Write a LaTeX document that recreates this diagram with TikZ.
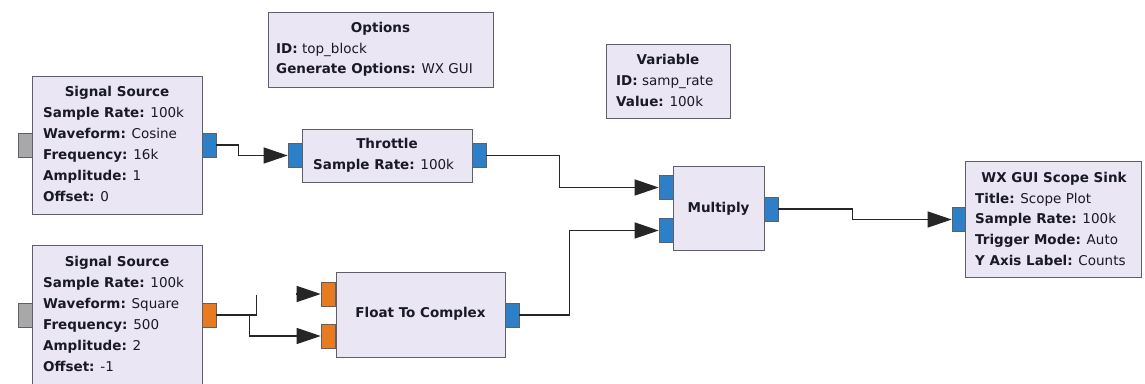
\documentclass[tikz,border=0pt]{standalone}
\usepackage{fontspec}
\setmainfont{DejaVu Sans}
\usetikzlibrary{arrows.meta}
\definecolor{blkfill}{RGB}{234,230,243}
\definecolor{blkdraw}{RGB}{95,95,105}
\definecolor{portblue}{RGB}{45,128,200}
\definecolor{portorange}{RGB}{232,122,32}
\definecolor{portgray}{RGB}{168,168,168}
\definecolor{txt}{RGB}{25,25,40}
\begin{document}
\begin{tikzpicture}[x=1pt,y=-1pt,
  blk/.style={draw=blkdraw, fill=blkfill, line width=1.2pt, inner sep=0pt, anchor=north west},
  port/.style={draw=blkdraw, line width=0.6pt, inner sep=0pt, minimum width=14pt, minimum height=24pt},
  bport/.style={port, fill=portblue},
  oport/.style={port, fill=portorange},
  gport/.style={port, fill=portgray},
  lbl/.style={text=txt, font=\fontsize{13.5}{16}\selectfont, inner sep=0pt, anchor=base west},
  ttl/.style={text=txt, font=\fontsize{13.5}{16}\selectfont\bfseries, inner sep=0pt, anchor=base},
  wire/.style={draw=black!85, line width=1.3pt},
  conn/.style={wire, -{Triangle[length=24pt,width=16pt]}}
]
\useasboundingbox (0,0) rectangle (1145,383);
\clip (0,0) rectangle (1145,383);
\fill[white] (0,0) rectangle (1145,383);

% ---------- blocks ----------
\node[blk, minimum width=170pt, minimum height=138pt] (ss1) at (32,76) {};
\node[blk, minimum width=170pt, minimum height=150pt] (ss2) at (32,245) {};
\node[blk, minimum width=225pt, minimum height=75pt] (opt) at (268,12) {};
\node[blk, minimum width=124pt, minimum height=74pt] (var) at (606,44) {};
\node[blk, minimum width=170pt, minimum height=53pt] (thr) at (302,129) {};
\node[blk, minimum width=169pt, minimum height=85pt] (ftc) at (336,272) {};
\node[blk, minimum width=91pt, minimum height=84pt] (mul) at (673,166) {};
\node[blk, minimum width=176pt, minimum height=116pt] (scp) at (965,161) {};

% ---------- ports ----------
\node[gport] (ss1in) at (25,145) {};
\node[bport] (ss1out) at (209,145) {};
\node[gport] (ss2in) at (25,315.5) {};
\node[oport] (ss2out) at (209,315) {};
\node[bport] (thrin) at (295,155.5) {};
\node[bport] (throut) at (479,155.5) {};
\node[oport] (ftcin1) at (328,294) {};
\node[oport] (ftcin2) at (328,336) {};
\node[bport] (ftcout) at (512,315) {};
\node[bport] (mulin1) at (666,187.5) {};
\node[bport] (mulin2) at (666,230.5) {};
\node[bport] (mulout) at (771,209) {};
\node[bport, minimum width=13pt] (scpin) at (958.5,219.5) {};

% ---------- texts ----------
\node[ttl] (t1) at (117,96) {Signal Source};
\node[lbl] (t1a) at (43,117) {\textbf{Sample Rate:} 100k};
\node[lbl] (t1b) at (43,138) {\textbf{Waveform:} Cosine};
\node[lbl] (t1c) at (43,159.5) {\textbf{Frequency:} 16k};
\node[lbl] (t1d) at (43,180.5) {\textbf{Amplitude:} 1};
\node[lbl] (t1e) at (43,201.5) {\textbf{Offset:} 0};

\node[ttl] (t2) at (117,266) {Signal Source};
\node[lbl] (t2a) at (43,287) {\textbf{Sample Rate:} 100k};
\node[lbl] (t2b) at (43,308) {\textbf{Waveform:} Square};
\node[lbl] (t2c) at (43,329) {\textbf{Frequency:} 500};
\node[lbl] (t2d) at (43,350) {\textbf{Amplitude:} 2};
\node[lbl] (t2e) at (43,371) {\textbf{Offset:} -1};

\node[ttl] (to) at (380.5,32) {Options};
\node[lbl] (toa) at (276,53) {\textbf{ID:} top\_block};
\node[lbl] (tob) at (276,73) {\textbf{Generate Options:} WX GUI};

\node[ttl] (tv) at (668,64) {Variable};
\node[lbl] (tva) at (616,85) {\textbf{ID:} samp\_rate};
\node[lbl] (tvb) at (616,106) {\textbf{Value:} 100k};

\node[ttl] (tt) at (387,148) {Throttle};
\node[lbl] (tta) at (313,169) {\textbf{Sample Rate:} 100k};

\node[ttl] (tm) at (718.5,212) {Multiply};
\node[ttl] (tf) at (420.5,317) {Float To Complex};

\node[ttl] (ts) at (1054,182) {WX GUI Scope Sink};
\node[lbl] (tsa) at (975,203) {\textbf{Title:} Scope Plot};
\node[lbl] (tsb) at (975,223.5) {\textbf{Sample Rate:} 100k};
\node[lbl] (tsc) at (975,244) {\textbf{Trigger Mode:} Auto};
\node[lbl] (tsd) at (975,265) {\textbf{Y Axis Label:} Counts};

% ---------- connections ----------
\draw[conn] (ss1out.east) -- ++(22,0) |- (thrin.west);
\draw[conn] (throut.east) -- ++(73,0) |- (mulin1.west);
\draw[conn] (ftcout.east) -- ++(50,0) |- (mulin2.west);
\draw[conn] (mulout.east) -- ++(74,0) |- (scpin.west);
\draw[conn] (ss2out.east) -- ++(33,0) |- (ftcin2.west);
\draw[wire] (ss2out.east) -- ++(40,0) -- ++(0,-20);
\coordinate (stub) at (296,294);
\draw[conn] (stub) -- (ftcin1.west);
\end{tikzpicture}
\end{document}
